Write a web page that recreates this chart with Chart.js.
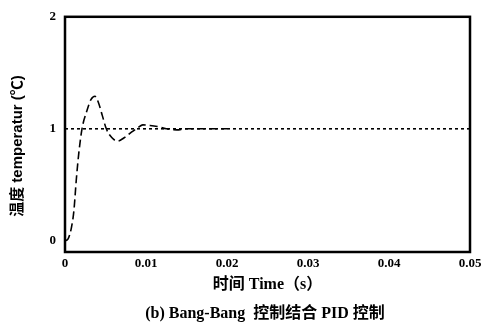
<!DOCTYPE html>
<html>
<head>
<meta charset="utf-8">
<script src="https://cdn.jsdelivr.net/npm/chart.js@4/dist/chart.umd.min.js"></script>
<style>
  html, body { margin: 0; padding: 0; background: #fff; }
  #wrap { width: 489px; height: 327px; }
</style>
</head>
<body>
<div id="wrap"><canvas id="c" width="489" height="327"></canvas></div>
<script>
// response curve
const timeValues = [0, 0.0004, 0.0008, 0.0011, 0.0014, 0.0017, 0.0021, 0.0027, 0.0032, 0.0037, 0.0041, 0.0046, 0.0051, 0.0058, 0.0065, 0.0073, 0.0082, 0.0090, 0.0096, 0.0105, 0.0114, 0.0125, 0.0138, 0.0150, 0.0170, 0.0200];
const tempValues = [0, 0.02, 0.12, 0.27, 0.55, 0.78, 1.0, 1.16, 1.26, 1.29, 1.24, 1.12, 1.0, 0.92, 0.89, 0.92, 0.97, 1.01, 1.035, 1.03, 1.02, 1.0, 0.99, 1.0, 1.0, 1.0];

// setpoint
const setTime = [0, 0.05];
const setValues = [1, 1];

const xTicks = [0, 0.01, 0.02, 0.03, 0.04, 0.05];
const xTickLabels = ['0', '0.01', '0.02', '0.03', '0.04', '0.05'];
const yTicks = [0, 1, 2];

const cjk = '"Noto Sans CJK SC"';
const serif = '"Liberation Serif", "Times New Roman", ' + cjk + ', serif';

// frame + y title + caption
const extras = {
    id: 'extras',
    afterDraw(chart) {
        const { ctx, chartArea: a } = chart;
        ctx.save();
        ctx.strokeStyle = '#000';
        ctx.lineWidth = 2.5;
        ctx.strokeRect(a.left, a.top, a.right - a.left, a.bottom - a.top);

        ctx.fillStyle = '#000';
        ctx.textAlign = 'center';
        ctx.textBaseline = 'middle';
        ctx.translate(18, 146);
        ctx.rotate(-Math.PI / 2);
        ctx.font = 'bold 15px "Liberation Sans", Arial, ' + cjk + ', sans-serif';
        ctx.fillText('温度 temperatur (℃)', 0, 0);
        ctx.restore();

        ctx.save();
        ctx.fillStyle = '#000';
        ctx.textAlign = 'center';
        ctx.textBaseline = 'middle';
        ctx.font = 'bold 16px ' + serif;
        ctx.fillText('(b) Bang-Bang  控制结合 PID 控制', 265, 314);
        ctx.restore();
    }
};

new Chart(document.getElementById('c'), {
    type: 'line',
    data: {
        datasets: [
            {
                label: 'setpoint',
                data: setTime.map((t, i) => ({ x: t, y: setValues[i] })),
                borderColor: '#000',
                borderWidth: 1.6,
                borderDash: [3, 3],
                pointRadius: 0,
                fill: false
            },
            {
                label: 'response',
                data: timeValues.map((t, i) => ({ x: t, y: tempValues[i] })),
                borderColor: '#000',
                borderWidth: 1.6,
                borderDash: [8, 4],
                pointRadius: 0,
                tension: 0.4,
                cubicInterpolationMode: 'monotone',
                fill: false
            }
        ]
    },
    options: {
        responsive: false,
        animation: false,
        layout: { padding: { top: 15, right: 19, left: 0, bottom: 0 } },
        plugins: {
            legend: { display: false },
            tooltip: { enabled: false }
        },
        scales: {
            x: {
                type: 'linear',
                min: 0,
                max: 0.05,
                grid: { display: false, drawTicks: false },
                border: { display: false },
                afterBuildTicks: s => { s.ticks = xTicks.map(v => ({ value: v })); },
                afterFit: s => { s.height = 75; },
                ticks: {
                    padding: 4,
                    maxRotation: 0,
                    color: '#000',
                    font: { family: serif, size: 13, weight: 'bold' },
                    callback: (v) => xTickLabels[xTicks.indexOf(v)] ?? ''
                },
                title: {
                    display: true,
                    text: '时间 Time（s）',
                    color: '#000',
                    font: { family: serif, size: 16, weight: 'bold' },
                    padding: { top: 0, bottom: 33 }
                }
            },
            y: {
                min: -0.1,
                max: 2,
                grid: { display: false, drawTicks: false },
                border: { display: false },
                afterBuildTicks: s => { s.ticks = yTicks.map(v => ({ value: v })); },
                afterFit: s => { s.width = 65; },
                ticks: {
                    padding: 9,
                    color: '#000',
                    font: { family: serif, size: 13, weight: 'bold' }
                }
            }
        }
    },
    plugins: [extras]
});
</script>
</body>
</html>
